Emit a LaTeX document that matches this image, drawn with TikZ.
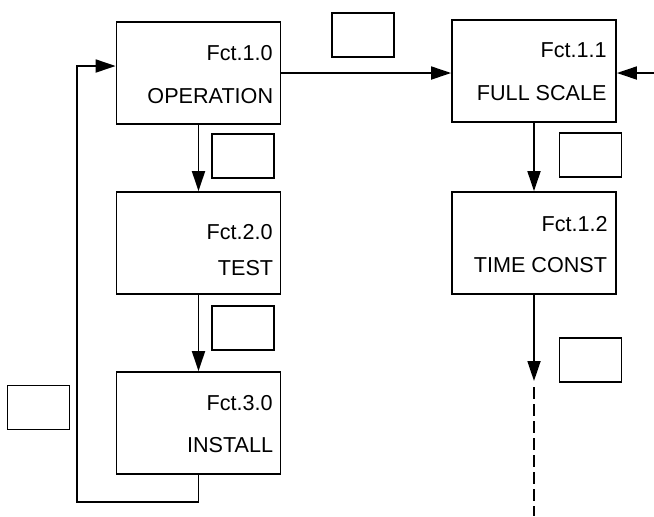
\documentclass[tikz,border=0pt]{standalone}
\usepackage{fontspec}
\setmainfont{Liberation Sans}
\usetikzlibrary{arrows.meta}
\begin{document}
\begin{tikzpicture}[x=0.5pt,y=-0.5pt,
  fbox/.style={draw,line width=0.9pt,minimum width=82pt,minimum height=51pt,inner sep=0pt,anchor=center},
  sbox/.style={draw,line width=0.9pt,minimum width=31pt,minimum height=22pt,inner sep=0pt,anchor=center},
  lbl/.style={anchor=east,inner sep=0pt,font=\fontsize{10.8pt}{12pt}\selectfont},
  conn/.style={line width=0.9pt},
  arr/.style={conn,-{Triangle[length=10pt,width=6.5pt]}},
  dashline/.style={conn,dash pattern=on 6pt off 2.5pt}]
\useasboundingbox (0,0) rectangle (654,516);
% function boxes
\node[fbox] (A) at (198.5,73) {};
\node[fbox] (B) at (198.5,243) {};
\node[fbox] (C) at (198.5,423) {};
\node[fbox] (D) at (534,71) {};
\node[fbox] (E) at (534,243) {};
% labels
\node[lbl] (A1) at (273,53) {Fct.1.0};
\node[lbl] (A2) at (273.5,96) {OPERATION};
\node[lbl] (B1) at (273,232) {Fct.2.0};
\node[lbl] (B2) at (273.5,268.5) {TEST};
\node[lbl] (C1) at (273,403) {Fct.3.0};
\node[lbl] (C2) at (273.5,445) {INSTALL};
\node[lbl] (D1) at (607,50) {Fct.1.1};
\node[lbl] (D2) at (607,93) {FULL SCALE};
\node[lbl] (E1) at (608,224) {Fct.1.2};
\node[lbl] (E2) at (607.5,265) {TIME CONST};
% small empty boxes
\node[sbox] (S1) at (363,35) {};
\node[sbox] (S2) at (243,156) {};
\node[sbox] (S3) at (243,328) {};
\node[sbox] (S4) at (590.5,155) {};
\node[sbox] (S5) at (590.5,360) {};
\node[sbox] (S6) at (38.5,407.5) {};
% coordinates
\coordinate (Ain) at ([yshift=3.5pt]A.west);
\coordinate (L1) at (200,502);
\coordinate (L2) at (77,502);
\coordinate (L3) at (77,66);
\coordinate (Rin) at (654,73);
\coordinate (Etip) at (534,381);
\coordinate (Dd1) at (534,387);
\coordinate (Dd2) at (534,516);
% connectors
\draw[arr] (A.east) -- (A.east -| D.west);
\draw[arr] (Rin) -- (Rin -| D.east);
\draw[arr] (A.south) -- (B.north);
\draw[arr] (B.south) -- (C.north);
\draw[arr] (D.south) -- (E.north);
\draw[arr] (E.south) -- (Etip);
\draw[dashline] (Dd1) -- (Dd2);
\draw[arr] (C.south) -- (C.south |- L1) -- (L2) -- (L3) -- (Ain);
\end{tikzpicture}
\end{document}
